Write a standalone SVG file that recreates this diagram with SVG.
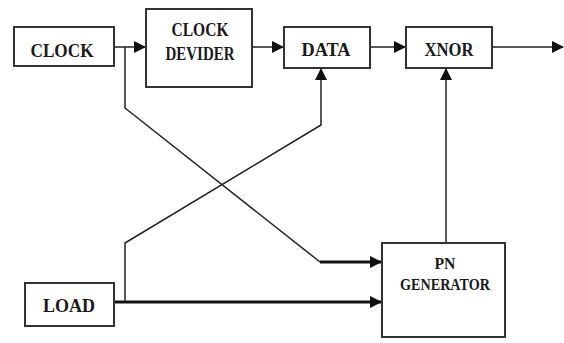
<svg xmlns="http://www.w3.org/2000/svg" width="564" height="343" viewBox="0 0 564 343">
<style>
.box{fill:#fff;stroke:#333;stroke-width:2}
.lbl{font-family:"Liberation Serif","Times New Roman",serif;font-weight:bold;font-size:18px;fill:#1a1a1a;text-anchor:middle}
.sm{font-size:17px}
.ln{fill:none;stroke:#222;stroke-width:1.5}
.th{fill:none;stroke:#111;stroke-width:3}
</style>
<defs>
<marker id="ah" markerUnits="userSpaceOnUse" markerWidth="12" markerHeight="12" refX="11" refY="6" orient="auto">
<path d="M0,0 L12,6 L0,12 Z" fill="#111"/>
</marker>
</defs>
<rect width="564" height="343" fill="#fff"/>
<g id="connectors">
<path class="ln" d="M114,47 H145" marker-end="url(#ah)"/>
<path class="ln" d="M252,47 H283" marker-end="url(#ah)"/>
<path class="ln" d="M370,47 H405" marker-end="url(#ah)"/>
<path class="ln" d="M492,47 H563" marker-end="url(#ah)"/>
<path class="ln" d="M125,47 V108 L320,262"/>
<path class="th" d="M320,262 H381" marker-end="url(#ah)"/>
<path class="th" d="M114,302 H381" marker-end="url(#ah)"/>
<path class="ln" d="M125,302 V243 L321,125 V69" marker-end="url(#ah)"/>
<path class="ln" d="M446,243 V69" marker-end="url(#ah)"/>
</g>
<g id="clock">
<rect class="box" x="14" y="27" width="100" height="39"/>
<text class="lbl" x="62" y="57" textLength="63" lengthAdjust="spacingAndGlyphs">CLOCK</text>
</g>
<g id="clock-devider">
<rect class="box" x="146" y="9" width="106" height="78"/>
<text class="lbl" x="200" y="36" textLength="57" lengthAdjust="spacingAndGlyphs">CLOCK</text>
<text class="lbl" x="200" y="60" textLength="69" lengthAdjust="spacingAndGlyphs">DEVIDER</text>
</g>
<g id="data">
<rect class="box" x="284" y="27" width="86" height="41"/>
<text class="lbl" x="326" y="56" textLength="49" lengthAdjust="spacingAndGlyphs">DATA</text>
</g>
<g id="xnor">
<rect class="box" x="406" y="27" width="86" height="41"/>
<text class="lbl" x="449" y="56" textLength="49" lengthAdjust="spacingAndGlyphs">XNOR</text>
</g>
<g id="load">
<rect class="box" x="25" y="283" width="89" height="43"/>
<text class="lbl" x="69" y="312" textLength="52" lengthAdjust="spacingAndGlyphs">LOAD</text>
</g>
<g id="pn-generator">
<rect class="box" x="382" y="243" width="123" height="94"/>
<text class="lbl sm" x="445" y="269" textLength="21" lengthAdjust="spacingAndGlyphs">PN</text>
<text class="lbl sm" x="445" y="290" textLength="90" lengthAdjust="spacingAndGlyphs">GENERATOR</text>
</g>
</svg>
